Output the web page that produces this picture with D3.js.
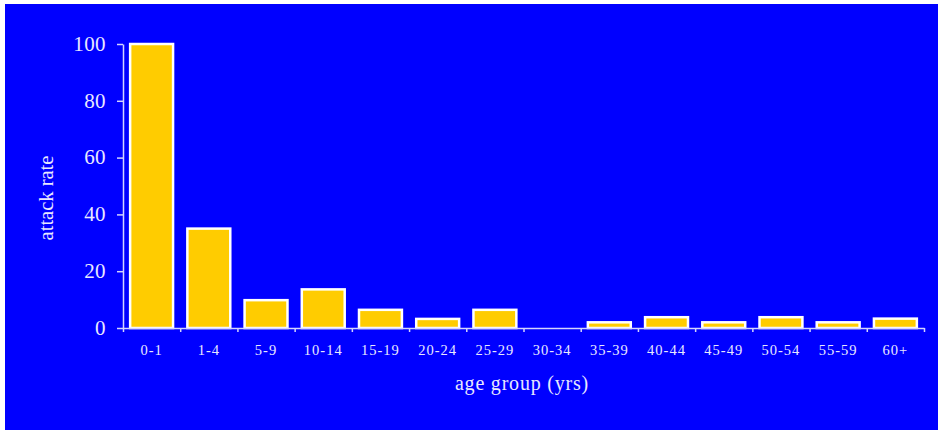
<!DOCTYPE html>
<html lang="en">
  <head>
    <meta charset="utf-8">
    <title>Attack rate by age group</title>
    <script src="https://cdnjs.cloudflare.com/ajax/libs/d3/7.8.5/d3.min.js"></script>
    <style>
      body { margin: 0; background: #fff; }
      svg { display: block; }
      .axis path, .axis line { stroke: #d4d4ff; stroke-width: 1.5; }
      .axis text { fill: #e8e8ff; font-family: "Liberation Serif", "Times New Roman", serif; }
    </style>
  </head>
  <body>
    <script>
    // data
    const groups = ["0-1", "1-4", "5-9", "10-14", "15-19", "20-24", "25-29",
                    "30-34", "35-39", "40-44", "45-49", "50-54", "55-59", "60+"];
    const rates = [100, 35, 9.8, 13.6, 6.4, 3.2, 6.4, 0, 2, 3.8, 2, 3.8, 2, 3.3];
    const yTicks = [0, 20, 40, 60, 80, 100];

    const w = 938, h = 430;
    const plotLeft = 123, plotRight = 924, plotTop = 44, plotBottom = 328;

    const svg = d3.select("body").append("svg")
      .attr("width", w)
      .attr("height", h);

    // blue panel
    svg.append("rect")
      .attr("x", 5).attr("y", 4)
      .attr("width", w - 5).attr("height", h - 4)
      .attr("fill", "#0000ff");

    const x = d3.scaleBand()
      .domain(groups)
      .range([plotLeft, plotRight])
      .paddingInner(0.25)
      .paddingOuter(0.125);

    const y = d3.scaleLinear()
      .domain([0, 100])
      .range([plotBottom, plotTop]);

    // bars
    svg.selectAll("rect.bar")
      .data(rates)
      .enter()
      .append("rect")
      .attr("class", "bar")
      .attr("x", (d, i) => x(groups[i]))
      .attr("y", d => y(d))
      .attr("width", x.bandwidth())
      .attr("height", d => plotBottom - y(d))
      .attr("fill", d => d > 0 ? "#ffcc00" : "none")
      .attr("stroke", d => d > 0 ? "#ffffff" : "none")
      .attr("stroke-width", 2.5);

    // x axis: ticks at band boundaries
    const xb = d3.scaleLinear().domain([0, groups.length]).range([plotLeft, plotRight]);
    const gx = svg.append("g")
      .attr("class", "axis")
      .attr("transform", "translate(0," + plotBottom + ")")
      .call(d3.axisBottom(xb).tickValues(d3.range(groups.length + 1))
        .tickSize(4).tickSizeOuter(0).tickFormat(""));

    gx.selectAll(".lbl")
      .data(groups)
      .enter()
      .append("text")
      .attr("class", "lbl")
      .attr("x", d => x(d) + x.bandwidth() / 2)
      .attr("y", 27)
      .attr("text-anchor", "middle")
      .style("font-size", "14.5px")
      .style("letter-spacing", "1px")
      .text(d => d);

    // y axis
    svg.append("g")
      .attr("class", "axis")
      .attr("transform", "translate(" + plotLeft + ",0)")
      .call(d3.axisLeft(y).tickValues(yTicks).tickSize(6).tickSizeOuter(0).tickPadding(11))
      .selectAll("text")
      .style("font-size", "21px")
      .style("letter-spacing", "0.4px")
      .attr("dy", "0.3em");

    // axis titles
    svg.append("text")
      .attr("x", 522)
      .attr("y", 390)
      .attr("text-anchor", "middle")
      .attr("fill", "#e8e8ff")
      .style("font-family", "'Liberation Serif', serif")
      .style("font-size", "20px")
      .style("letter-spacing", "0.8px")
      .text("age group (yrs)");

    svg.append("text")
      .attr("transform", "translate(53,198) rotate(-90)")
      .attr("text-anchor", "middle")
      .attr("fill", "#e8e8ff")
      .style("font-family", "'Liberation Serif', serif")
      .style("font-size", "20.5px")
      .text("attack rate");
    </script>
  </body>
</html>
